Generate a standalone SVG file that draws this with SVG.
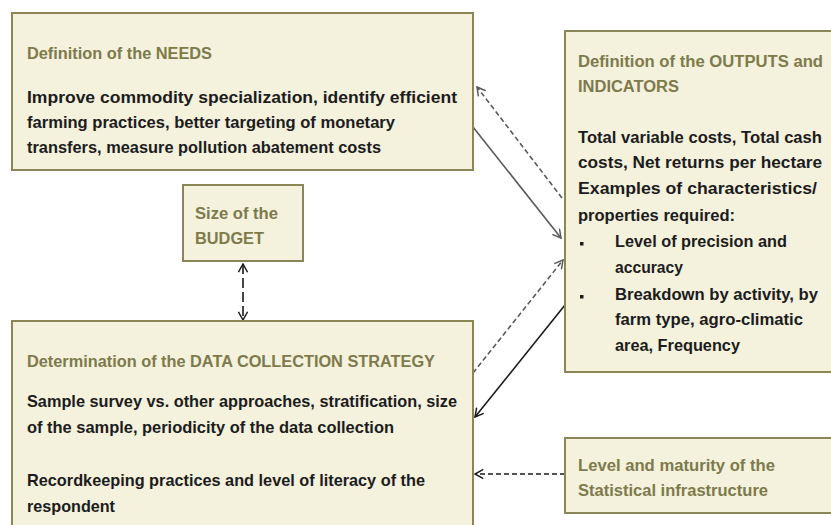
<svg xmlns="http://www.w3.org/2000/svg" width="831" height="525" viewBox="0 0 831 525">
  <style>
    .box { fill: #f4f1dc; stroke: #8a8658; stroke-width: 2; }
    .ttl { font-family: "Liberation Sans", Arial, sans-serif; font-size: 16px; font-weight: bold; fill: #7d7a4c; }
    .txt { font-family: "Liberation Sans", Arial, sans-serif; font-size: 17px; font-weight: bold; fill: #1c1c1c; }
    .ln { fill: none; stroke-width: 1.6; }
    .gray { stroke: #5a5a5a; }
    .blk { stroke: #1a1a1a; }
    .dash { stroke-dasharray: 5 3; }
  </style>
  <defs>
    <marker id="headGray" viewBox="0 0 12 12" refX="11" refY="6" markerWidth="11" markerHeight="11" markerUnits="userSpaceOnUse" orient="auto-start-reverse">
      <path d="M2,1 L11,6 L2,11" fill="none" stroke="#5a5a5a" stroke-width="1.6"/>
    </marker>
    <marker id="headBlk" viewBox="0 0 12 12" refX="11" refY="6" markerWidth="11" markerHeight="11" markerUnits="userSpaceOnUse" orient="auto-start-reverse">
      <path d="M2,1 L11,6 L2,11" fill="none" stroke="#1a1a1a" stroke-width="1.6"/>
    </marker>
  </defs>

  <rect width="831" height="525" fill="#ffffff"/>

  <!-- connectors -->
  <g id="connectors">
    <line class="ln gray dash" x1="562" y1="198" x2="477" y2="87" marker-end="url(#headGray)"/>
    <line class="ln gray" x1="473" y1="127" x2="561" y2="238" marker-end="url(#headGray)"/>
    <line class="ln gray dash" x1="473" y1="373" x2="563" y2="260" marker-end="url(#headGray)"/>
    <line class="ln blk" x1="565" y1="305" x2="475" y2="417" marker-end="url(#headBlk)"/>
    <line class="ln blk dash" x1="565" y1="474" x2="475" y2="474" stroke-width="2.2" marker-end="url(#headBlk)"/>
    <line class="ln blk" x1="243" y1="264" x2="243" y2="320" stroke-dasharray="10 4" marker-start="url(#headBlk)" marker-end="url(#headBlk)"/>
  </g>

  <!-- needs -->
  <g id="needs">
    <rect class="box" x="12" y="13" width="461" height="157"/>
    <text class="ttl" x="27" y="59" textLength="185" lengthAdjust="spacingAndGlyphs">Definition of the NEEDS</text>
    <text class="txt" x="27" y="103" textLength="430" lengthAdjust="spacingAndGlyphs">Improve commodity specialization, identify efficient</text>
    <text class="txt" x="27" y="128" textLength="368" lengthAdjust="spacingAndGlyphs">farming practices, better targeting of monetary</text>
    <text class="txt" x="27" y="153" textLength="354" lengthAdjust="spacingAndGlyphs">transfers, measure pollution abatement costs</text>
  </g>

  <!-- budget -->
  <g id="budget">
    <rect class="box" x="183" y="185" width="120" height="76"/>
    <text class="ttl" x="195" y="219" textLength="83" lengthAdjust="spacingAndGlyphs">Size of the</text>
    <text class="ttl" x="195" y="244" textLength="69" lengthAdjust="spacingAndGlyphs">BUDGET</text>
  </g>

  <!-- outputs -->
  <g id="outputs">
    <rect class="box" x="565" y="31" width="280" height="341"/>
    <text class="ttl" x="578" y="67" textLength="245" lengthAdjust="spacingAndGlyphs">Definition of the OUTPUTS and</text>
    <text class="ttl" x="578" y="92" textLength="101" lengthAdjust="spacingAndGlyphs">INDICATORS</text>
    <text class="txt" x="578" y="143" textLength="244" lengthAdjust="spacingAndGlyphs">Total variable costs, Total cash</text>
    <text class="txt" x="578" y="168" textLength="244" lengthAdjust="spacingAndGlyphs">costs, Net returns per hectare</text>
    <text class="txt" x="578" y="194" textLength="239" lengthAdjust="spacingAndGlyphs">Examples of characteristics/</text>
    <text class="txt" x="578" y="221" textLength="157" lengthAdjust="spacingAndGlyphs">properties required:</text>
    <rect x="580" y="242" width="3.5" height="3.5" fill="#1c1c1c"/>
    <text class="txt" x="615" y="247" textLength="172" lengthAdjust="spacingAndGlyphs">Level of precision and</text>
    <text class="txt" x="615" y="273" textLength="68" lengthAdjust="spacingAndGlyphs">accuracy</text>
    <rect x="580" y="295" width="3.5" height="3.5" fill="#1c1c1c"/>
    <text class="txt" x="615" y="300" textLength="203" lengthAdjust="spacingAndGlyphs">Breakdown by activity, by</text>
    <text class="txt" x="615" y="325" textLength="188" lengthAdjust="spacingAndGlyphs">farm type, agro-climatic</text>
    <text class="txt" x="615" y="351" textLength="125" lengthAdjust="spacingAndGlyphs">area, Frequency</text>
  </g>

  <!-- data collection strategy -->
  <g id="strategy">
    <rect class="box" x="12" y="321" width="461" height="220"/>
    <text class="ttl" x="27" y="367" textLength="408" lengthAdjust="spacingAndGlyphs">Determination of the DATA COLLECTION STRATEGY</text>
    <text class="txt" x="27" y="407" textLength="430" lengthAdjust="spacingAndGlyphs">Sample survey vs. other approaches, stratification, size</text>
    <text class="txt" x="27" y="433" textLength="367" lengthAdjust="spacingAndGlyphs">of the sample, periodicity of the data collection</text>
    <text class="txt" x="27" y="486" textLength="398" lengthAdjust="spacingAndGlyphs">Recordkeeping practices and level of literacy of the</text>
    <text class="txt" x="27" y="512" textLength="88" lengthAdjust="spacingAndGlyphs">respondent</text>
  </g>

  <!-- statistical infrastructure -->
  <g id="infrastructure">
    <rect class="box" x="565" y="438" width="280" height="75"/>
    <text class="ttl" x="578" y="471" textLength="197" lengthAdjust="spacingAndGlyphs">Level and maturity of the</text>
    <text class="ttl" x="578" y="496" textLength="190" lengthAdjust="spacingAndGlyphs">Statistical infrastructure</text>
  </g>
</svg>
